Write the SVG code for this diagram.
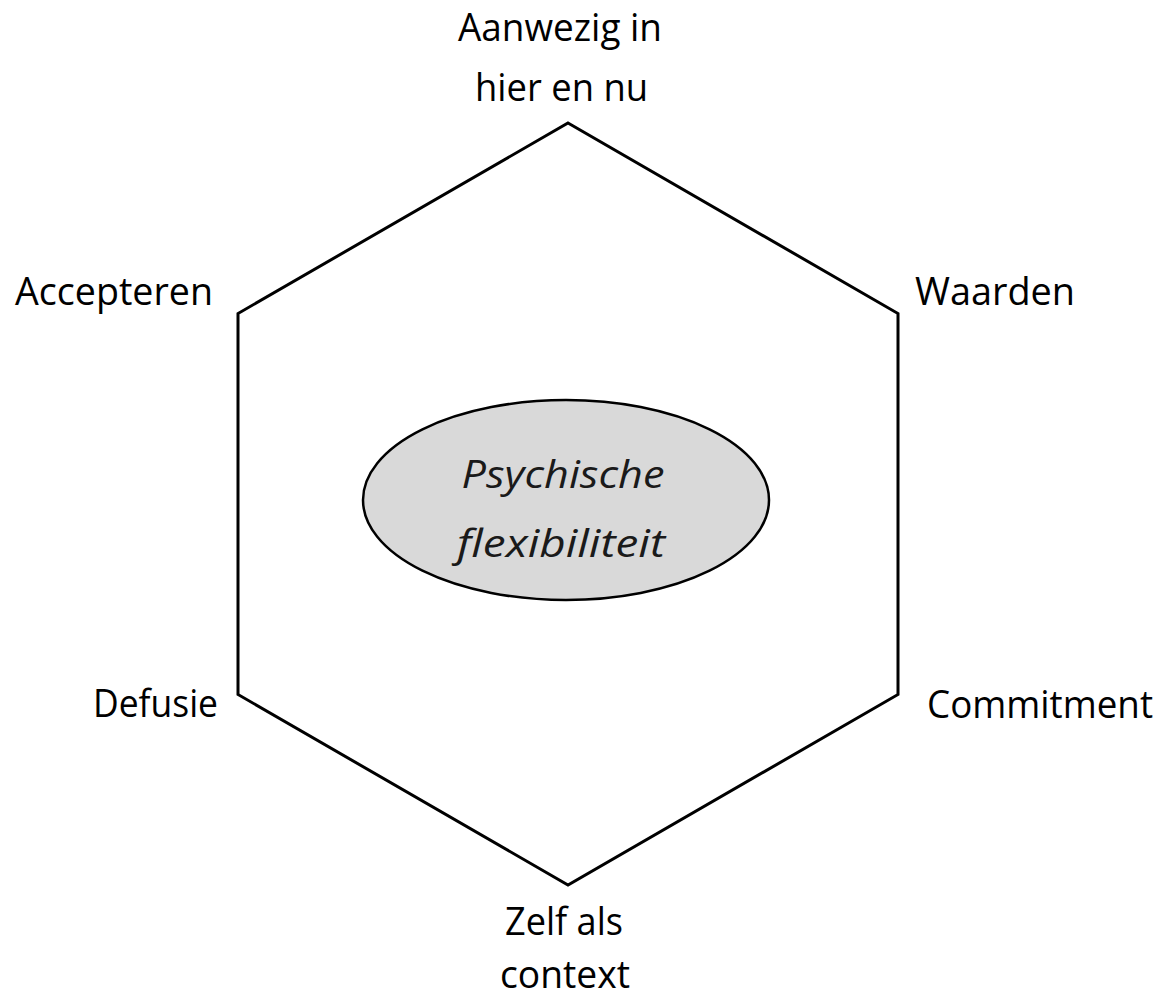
<svg xmlns="http://www.w3.org/2000/svg" width="1163" height="997" viewBox="0 0 1163 997">
<style>
.lbl{font-family:"Open Sans","Liberation Sans",sans-serif;font-size:38px;fill:#000;text-anchor:middle}
.ctr{font-family:"Open Sans","Liberation Sans",sans-serif;font-size:38px;font-style:italic;fill:#1a1a1a;text-anchor:middle}
.hex{fill:none;stroke:#000;stroke-width:3;stroke-linejoin:miter}
</style>
<rect width="1163" height="997" fill="#fff"/>
<g id="connectors">
<polygon class="hex" points="568,123 898,313.5 898,694.5 568,885 238,694.5 238,313.5"/>
</g>
<g id="center">
<ellipse cx="566" cy="500" rx="203" ry="100" fill="#d9d9d9" stroke="#000" stroke-width="2.5"/>
<text class="ctr" x="563" y="488" textLength="203" lengthAdjust="spacingAndGlyphs">Psychische</text>
<text class="ctr" x="561" y="557" textLength="208" lengthAdjust="spacingAndGlyphs">flexibiliteit</text>
</g>
<g id="aanwezig">
<text class="lbl" x="560" y="41" textLength="204" lengthAdjust="spacingAndGlyphs">Aanwezig in</text>
<text class="lbl" x="561.5" y="101" textLength="173" lengthAdjust="spacingAndGlyphs">hier en nu</text>
</g>
<g id="waarden">
<text class="lbl" x="995" y="305" textLength="160" lengthAdjust="spacingAndGlyphs">Waarden</text>
</g>
<g id="commitment">
<text class="lbl" x="1040" y="718" textLength="226" lengthAdjust="spacingAndGlyphs">Commitment</text>
</g>
<g id="zelf">
<text class="lbl" x="564" y="935" textLength="118" lengthAdjust="spacingAndGlyphs">Zelf als</text>
<text class="lbl" x="565" y="988" textLength="130" lengthAdjust="spacingAndGlyphs">context</text>
</g>
<g id="defusie">
<text class="lbl" x="155.5" y="717" textLength="125" lengthAdjust="spacingAndGlyphs">Defusie</text>
</g>
<g id="accepteren">
<text class="lbl" x="114" y="305" textLength="198" lengthAdjust="spacingAndGlyphs">Accepteren</text>
</g>
</svg>
